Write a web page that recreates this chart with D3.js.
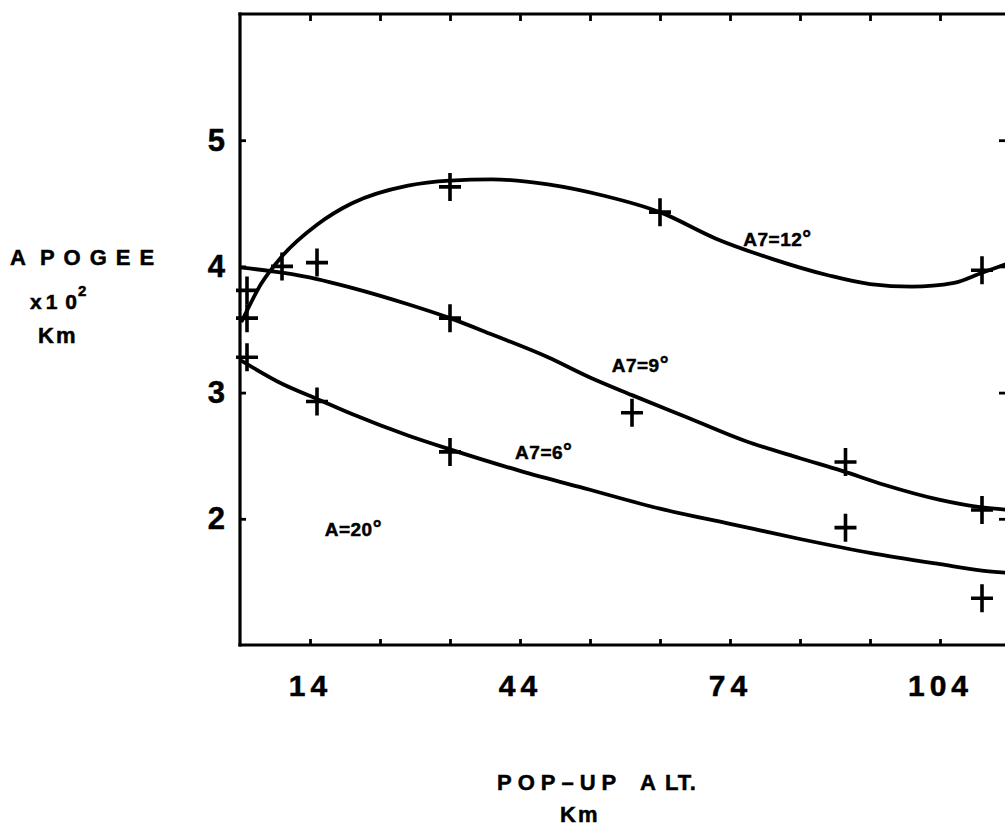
<!DOCTYPE html>
<html>
<head>
<meta charset="utf-8">
<script src="https://cdn.jsdelivr.net/npm/d3@7"></script>
<style>
  html, body { margin: 0; padding: 0; background: #fff; }
  svg { display: block; }
  text { font-family: "Liberation Sans", Arial, sans-serif; font-weight: bold; fill: #000;
         stroke: #000; stroke-width: 0.5; }
</style>
</head>
<body>
<svg id="chart" width="1005" height="829"></svg>
<script>
// Pop-up altitude (km) against apogee (x10^2 km), A = 20 deg

const xTickValues = [14, 24, 34, 44, 54, 64, 74, 84, 94, 104, 114];
const xTickLabels = [14, 44, 74, 104];
const yTickValues = [2, 3, 4, 5];
const yTickLabels = [2, 3, 4, 5];

// fitted curves: [pop-up alt, apogee]
const curve12 = [[4.3, 3.57], [7, 3.86], [10, 4.08], [15, 4.33], [20, 4.5], [28, 4.64], [34, 4.68],
  [40, 4.69], [48, 4.65], [56, 4.56], [64, 4.43], [72, 4.22], [80, 4.06], [88, 3.93], [94, 3.86],
  [100, 3.84], [106, 3.87], [110, 3.95], [114, 4.03]];
const curve9 = [[4.3, 3.99], [10, 3.95], [15, 3.9], [20, 3.83], [28, 3.7], [34, 3.59], [40, 3.46],
  [48, 3.28], [54, 3.12], [60, 2.98], [68, 2.8], [76, 2.62], [84, 2.48], [90, 2.38], [96, 2.27],
  [104, 2.15], [110, 2.09], [114, 2.07]];
const curve6 = [[4.3, 3.25], [10, 3.07], [15, 2.95], [20, 2.83], [28, 2.66], [34, 2.55], [44, 2.38],
  [54, 2.23], [64, 2.08], [74, 1.96], [84, 1.84], [94, 1.73], [104, 1.64], [110, 1.59], [114, 1.57]];

// measured points
const points12 = [[5, 3.59], [10, 4.0], [34, 4.63], [64, 4.43], [110, 3.97]];
const points9 = [[5, 3.81], [15, 4.03], [34, 3.59], [60, 2.84], [90.5, 2.45], [110, 2.07]];
const points6 = [[5, 3.28], [15, 2.93], [34, 2.53], [90.5, 1.93], [110, 1.37]];

const curveLabels = [
  { text: "A7=12", x: 75.9, y: 4.16 },
  { text: "A7=9", x: 57.1, y: 3.16 },
  { text: "A7=6", x: 43.3, y: 2.47 },
  { text: "A=20", x: 16.1, y: 1.86 }
];

const svg = d3.select("#chart");
const x = d3.scaleLinear().domain([4, 114]).range([240, 1010]);
const y = d3.scaleLinear().domain([1, 6]).range([645, 14]);

const g = svg.append("g");

// frame lines
function frame(x1, y1, x2, y2) {
  g.append("line").attr("x1", x1).attr("y1", y1).attr("x2", x2).attr("y2", y2)
    .attr("stroke", "#000").attr("stroke-width", 3.2).attr("stroke-linecap", "square");
}
frame(x(4), y(6), x(114), y(6));
frame(x(4), y(1), x(114), y(1));
frame(x(4), y(6), x(4), y(1));

// tick marks
const topAxis = d3.axisTop(x).tickValues(xTickValues).tickSizeInner(-7).tickSizeOuter(0).tickFormat("");
const bottomAxis = d3.axisBottom(x).tickValues(xTickValues).tickSizeInner(-6).tickSizeOuter(0).tickFormat("");
const leftAxis = d3.axisLeft(y).tickValues(yTickValues).tickSizeInner(-6).tickSizeOuter(0).tickFormat("");
const rightAxis = d3.axisRight(y).tickValues(yTickValues).tickSizeInner(-7).tickSizeOuter(0).tickFormat("");

function styleTicks(sel) {
  sel.select(".domain").remove();
  sel.selectAll(".tick line").attr("stroke", "#000").attr("stroke-width", 2.8);
}
g.append("g").attr("transform", `translate(0,${y(6)})`).call(topAxis).call(styleTicks);
g.append("g").attr("transform", `translate(0,${y(1)})`).call(bottomAxis).call(styleTicks);
g.append("g").attr("transform", `translate(${x(4)},0)`).call(leftAxis).call(styleTicks);
g.append("g").attr("transform", `translate(1006,0)`).call(rightAxis).call(styleTicks);

// tick labels
function styleLabels(s, size, spacing) {
  s.select(".domain").remove();
  s.selectAll("text").attr("font-size", size).attr("letter-spacing", spacing)
    .attr("font-family", "Liberation Sans, Arial, sans-serif").attr("font-weight", "bold")
    .attr("fill", "#000").attr("stroke", "#000").attr("stroke-width", 0.6);
}
const xLab = d3.axisBottom(x).tickValues(xTickLabels).tickSize(0).tickPadding(30).tickFormat(d => d);
g.append("g").attr("transform", `translate(0,${y(1)})`).call(xLab)
  .call(s => styleLabels(s, 30, 5));
const yLab = d3.axisLeft(y).tickValues(yTickLabels).tickSize(0).tickPadding(15).tickFormat(d => d);
g.append("g").attr("transform", `translate(${x(4)},0)`).call(yLab)
  .call(s => styleLabels(s, 31, 0));

// curves
const line = d3.line().x(d => x(d[0])).y(d => y(d[1])).curve(d3.curveMonotoneX);
svg.append("clipPath").attr("id", "plot").append("rect")
  .attr("x", x(4)).attr("y", y(6)).attr("width", x(114) - x(4)).attr("height", y(1) - y(6));
[curve12, curve9, curve6].forEach(c => {
  g.append("path").datum(c).attr("d", line).attr("fill", "none")
    .attr("stroke", "#000").attr("stroke-width", 3.8).attr("stroke-linecap", "round")
    .attr("clip-path", "url(#plot)");
});

// crosses at measured points
const arm = 11;
[points12, points9, points6].forEach(pts => {
  g.append("g").selectAll("path").data(pts).join("path")
    .attr("d", d => `M${x(d[0]) - arm},${y(d[1])}H${x(d[0]) + arm}M${x(d[0])},${y(d[1]) - arm - 3}V${y(d[1]) + arm + 3}`)
    .attr("stroke", "#000").attr("stroke-width", 3.6).attr("fill", "none");
});

// curve annotations
curveLabels.forEach(l => {
  const t = g.append("text").attr("x", x(l.x)).attr("y", y(l.y))
    .attr("font-size", 19).attr("letter-spacing", 0.5).text(l.text);
  t.append("tspan").attr("font-size", 22).attr("dx", 0).text("\u00b0");
});

// axis titles
const apo = g.append("text").attr("x", 10).attr("y", 265).attr("font-size", 22).attr("letter-spacing", 9);
apo.append("tspan").text("A");
apo.append("tspan").attr("dx", 5).text("POGEE");
const pow = g.append("text").attr("x", 30).attr("y", 309).attr("font-size", 21);
pow.append("tspan").attr("letter-spacing", 4).text("x1");
pow.append("tspan").attr("dx", 4).text("0");
g.append("text").attr("x", 78).attr("y", 296).attr("font-size", 15).text("2");
g.append("text").attr("x", 38).attr("y", 343).attr("font-size", 22).attr("letter-spacing", 2).text("Km");
g.append("text").attr("x", 497).attr("y", 790).attr("font-size", 22).attr("letter-spacing", 6).text("POP\u2013UP");
const alt = g.append("text").attr("x", 640).attr("y", 790).attr("font-size", 22).attr("letter-spacing", 1);
alt.append("tspan").text("A");
alt.append("tspan").attr("dx", 8).text("LT.");
g.append("text").attr("x", 560).attr("y", 822).attr("font-size", 22).attr("letter-spacing", 2).text("Km");
</script>
</body>
</html>
